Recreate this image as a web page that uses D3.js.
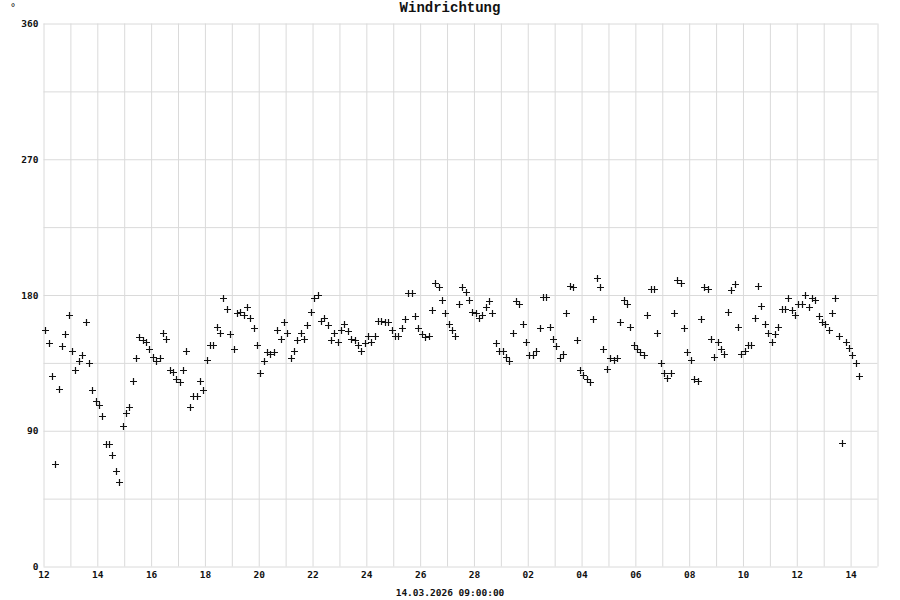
<!DOCTYPE html>
<html>
<head>
<meta charset="utf-8">
<script src="https://cdn.jsdelivr.net/npm/d3@7"></script>
<style>
  html, body { margin: 0; padding: 0; background: #fff; }
  .grid line { stroke: #dadada; stroke-width: 1; }
  .grid .domain { display: none; }
  .lbl text { font-family: "DejaVu Sans Mono", monospace; font-weight: bold; font-size: 9.5px; fill: #111; }
  .lbl .domain { display: none; }
  .mark { stroke: #111; stroke-width: 1.2; fill: none; }
</style>
</head>
<body>
<div id="chart"></div>
<script>
//// DATA

const TITLE = "Windrichtung";
const STAMP = "14.03.2026 09:00:00";
const UNIT = "°";

const Y_TICKS = [0, 90, 180, 270, 360];
const Y_GRID = [0, 45, 90, 135, 180, 225, 270, 315, 360];

// one sample every three hours
const SLOTS = ["01:30", "04:30", "07:30", "10:30", "13:30", "16:30", "19:30", "22:30"];

const DAYS = [
  "2026-02-12", "2026-02-13", "2026-02-14", "2026-02-15", "2026-02-16", "2026-02-17",
  "2026-02-18", "2026-02-19", "2026-02-20", "2026-02-21", "2026-02-22", "2026-02-23",
  "2026-02-24", "2026-02-25", "2026-02-26", "2026-02-27", "2026-02-28", "2026-03-01",
  "2026-03-02", "2026-03-03", "2026-03-04", "2026-03-05", "2026-03-06", "2026-03-07",
  "2026-03-08", "2026-03-09", "2026-03-10", "2026-03-11", "2026-03-12", "2026-03-13",
  "2026-03-14"
];

// wind direction in degrees, one row per day, one column per slot
const WIND_DIR = [
  [157, 148, 126, 68, 118, 146, 154, 167],
  [143, 130, 136, 140, 162, 135, 117, 110],
  [107, 100, 81, 81, 74, 63, 56, 93],
  [102, 106, 123, 138, 152, 150, 149, 144],
  [139, 136, 138, 155, 151, 130, 129, 124],
  [122, 130, 143, 106, 113, 113, 123, 117],
  [137, 147, 147, 159, 155, 178, 171, 154],
  [144, 168, 169, 167, 172, 165, 158, 147],
  [128, 136, 142, 141, 142, 157, 151, 162],
  [155, 138, 143, 150, 155, 151, 160, 169],
  [178, 180, 163, 165, 160, 150, 155, 149],
  [157, 161, 156, 151, 150, 147, 143, 148],
  [153, 149, 153, 163, 163, 162, 162, 157],
  [153, 153, 158, 164, 181, 181, 166, 158],
  [154, 152, 153, 170, 188, 185, 177, 168],
  [161, 157, 153, 174, 185, 182, 177, 169],
  [168, 165, 167, 172, 176, 168, 148, 143],
  [143, 139, 136, 155, 176, 174, 161, 149],
  [140, 140, 143, 158, 179, 179, 159, 151],
  [146, 138, 141, 168, 186, 185, 150, 130],
  [127, 124, 122, 164, 191, 185, 144, 131],
  [138, 137, 138, 162, 177, 174, 159, 147],
  [144, 142, 140, 167, 184, 184, 155, 135],
  [128, 125, 128, 168, 190, 188, 158, 142],
  [137, 124, 123, 164, 185, 184, 151, 139],
  [149, 144, 141, 169, 183, 187, 159, 141],
  [143, 147, 147, 165, 186, 173, 161, 155],
  [149, 154, 159, 171, 171, 178, 170, 167],
  [174, 174, 180, 172, 178, 177, 166, 162],
  [161, 157, 168, 178, 153, 82, 149, 145],
  [140, 135, 126]
];

//// LAYOUT

const WIDTH = 900, HEIGHT = 600;
const PLOT = { left: 43.5, right: 877.5, top: 23.5, bottom: 566.5 };

const parseTime = d3.utcParse("%Y-%m-%d %H:%M");
const START = parseTime(DAYS[0] + " 00:00");
const END = d3.utcDay.offset(parseTime(DAYS[DAYS.length - 1] + " 00:00"), 1);

const points = [];
WIND_DIR.forEach((row, i) => {
  row.forEach((v, j) => {
    points.push({ t: parseTime(DAYS[i] + " " + SLOTS[j]), v });
  });
});

const x = d3.scaleUtc().domain([START, END]).range([PLOT.left, PLOT.right]);
const y = d3.scaleLinear().domain([0, 360]).range([PLOT.bottom, PLOT.top]);

const svg = d3.select("#chart").append("svg")
  .attr("width", WIDTH)
  .attr("height", HEIGHT);

// grid, one line per day and every 45 degrees
svg.append("g")
  .attr("class", "grid")
  .attr("transform", `translate(0,${PLOT.bottom})`)
  .call(d3.axisBottom(x)
    .tickValues(d3.utcDay.range(START, d3.utcDay.offset(END, 1)))
    .tickSize(-(PLOT.bottom - PLOT.top))
    .tickFormat(""));

svg.append("g")
  .attr("class", "grid")
  .attr("transform", `translate(${PLOT.left},0)`)
  .call(d3.axisLeft(y)
    .tickValues(Y_GRID)
    .tickSize(-(PLOT.right - PLOT.left))
    .tickFormat(""));

// labels
svg.append("g")
  .attr("class", "lbl")
  .attr("transform", `translate(0,${PLOT.bottom})`)
  .call(d3.axisBottom(x)
    .tickValues(d3.utcDay.range(START, END, 2))
    .tickSize(0)
    .tickPadding(5)
    .tickFormat(d3.utcFormat("%d")));

svg.append("g")
  .attr("class", "lbl")
  .attr("transform", `translate(${PLOT.left},0)`)
  .call(d3.axisLeft(y)
    .tickValues(Y_TICKS)
    .tickSize(0)
    .tickPadding(5));

svg.append("text")
  .attr("x", 450)
  .attr("y", 12)
  .attr("text-anchor", "middle")
  .style("font-family", "'Liberation Mono', 'Courier New', monospace")
  .style("font-weight", "bold")
  .style("font-size", "14px")
  .style("fill", "#111")
  .text(TITLE);

svg.append("text")
  .attr("x", 450)
  .attr("y", 596)
  .attr("text-anchor", "middle")
  .style("font-family", "'DejaVu Sans Mono', monospace")
  .style("font-weight", "bold")
  .style("font-size", "9.5px")
  .style("fill", "#111")
  .text(STAMP);

svg.append("text")
  .attr("x", 10)
  .attr("y", 11)
  .style("font-family", "'DejaVu Sans Mono', monospace")
  .style("font-size", "10px")
  .style("fill", "#111")
  .text(UNIT);

// crosses
svg.append("g")
  .selectAll("path")
  .data(points)
  .enter()
  .append("path")
  .attr("class", "mark")
  .attr("d", d => {
    const cx = Math.round(x(d.t)) + 0.5, cy = Math.round(y(d.v)) + 0.5;
    return `M${cx - 3.5},${cy}H${cx + 3.5}M${cx},${cy - 3.5}V${cy + 3.5}`;
  });
</script>
</body>
</html>
